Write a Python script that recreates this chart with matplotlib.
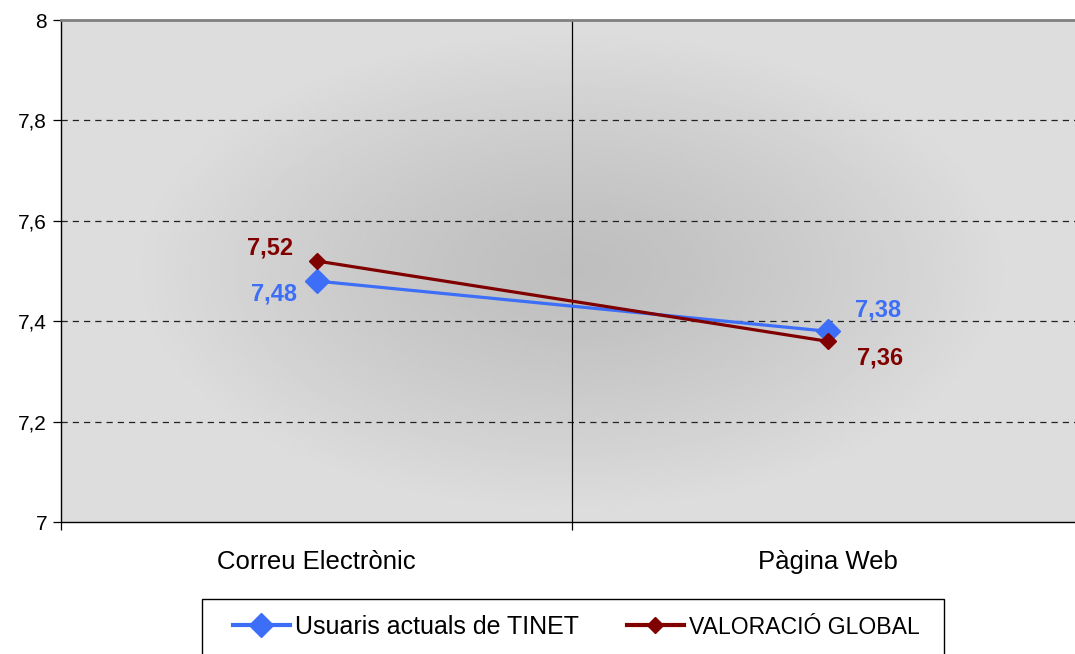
import numpy as np
import matplotlib
matplotlib.use("Agg")
import matplotlib.pyplot as plt
from matplotlib.lines import Line2D
from matplotlib.patches import Rectangle

plt.rcParams['font.family'] = ['Liberation Sans', 'DejaVu Sans']

categories = ['Correu Electrònic', 'Pàgina Web']
usuaris = [7.48, 7.38]
global_val = [7.52, 7.36]
yticks = [7, 7.2, 7.4, 7.6, 7.8, 8]
ytick_labels = ['7', '7,2', '7,4', '7,6', '7,8', '8']
series_names = ['Usuaris actuals de TINET', 'VALORACIÓ GLOBAL']

blue = '#3D6EF7'
red = '#800000'

fig = plt.figure(figsize=(10.75, 6.54), dpi=100)
W, H = 1075, 654
ax = fig.add_axes([61 / W, 1 - 522 / H, 1022 / W, 502 / H])
ax.set_xlim(-0.5, 1.5)
ax.set_ylim(7, 8)

# radial gray background, darker towards the middle
gx, gy = np.meshgrid(np.linspace(-1, 1, 300), np.linspace(-1, 1, 200))
r = np.clip(np.sqrt((gx / 0.85) ** 2 + (gy / 0.95) ** 2), 0, 1)
shade = 0.745 + (0.865 - 0.745) * r ** 1.3
ax.imshow(shade, cmap='gray', vmin=0, vmax=1, extent=(-0.5, 1.5, 7, 8),
          aspect='auto', zorder=0, interpolation='bilinear')

for yv in yticks[1:-1]:
    ax.axhline(yv, color='#222222', lw=0.9, ls=(0, (5, 4)), zorder=1)
ax.axvline(0.5, color='black', lw=0.9, zorder=1)

x = np.arange(len(categories))
ax.plot(x, usuaris, color=blue, lw=2.3, marker='D', ms=12.5, zorder=3)
ax.plot(x, global_val, color=red, lw=2.3, marker='D', ms=8.5, zorder=4)

def fmt(v):
    return f'{v:.2f}'.replace('.', ',')

lbl = dict(textcoords='offset points', va='center', fontsize=17, fontweight='bold')
ax.annotate(fmt(usuaris[0]), (x[0], usuaris[0]), xytext=(-14, -9), ha='right', color=blue, **lbl)
ax.annotate(fmt(global_val[0]), (x[0], global_val[0]), xytext=(-17, 9.5), ha='right', color=red, **lbl)
ax.annotate(fmt(usuaris[1]), (x[1], usuaris[1]), xytext=(19.5, 15), ha='left', color=blue, **lbl)
ax.annotate(fmt(global_val[1]), (x[1], global_val[1]), xytext=(21.5, -12), ha='left', color=red, **lbl)

ax.set_yticks(yticks)
ax.set_yticklabels(ytick_labels, fontsize=15)
ax.set_xticks([-0.5, 0.5, 1.5])
ax.set_xticklabels([])
ax.set_xticks(x, minor=True)
ax.set_xticklabels(categories, minor=True, fontsize=18.5)
ax.tick_params(axis='x', which='minor', length=0, pad=20)
ax.tick_params(axis='x', which='major', direction='out', length=6, width=0.9)
ax.tick_params(axis='y', direction='out', length=6, width=0.9, pad=4)

for side in ['left', 'bottom']:
    ax.spines[side].set_color('black')
    ax.spines[side].set_linewidth(1.0)
ax.spines['top'].set_color('#808080')
ax.spines['top'].set_linewidth(2.0)
ax.spines['right'].set_visible(False)

# legend frame runs off the bottom edge
fig.patches.append(Rectangle((202 / W, -0.05), 742 / W, 0.05 + 55 / H,
                             transform=fig.transFigure, fill=False,
                             edgecolor='black', lw=1.0))
handles = [Line2D([], [], color=blue, lw=3, marker='D', ms=12),
           Line2D([], [], color=red, lw=3, marker='D', ms=8)]
leg = fig.legend(handles, series_names, loc='center left',
                 bbox_to_anchor=(220 / W, 1 - 627 / H), ncol=2, fontsize=18,
                 frameon=False, borderpad=0, handlelength=2.3, handletextpad=0.2,
                 columnspacing=1.9)
leg.get_texts()[1].set_fontsize(16.6)

fig.savefig('out.png', dpi=100)
